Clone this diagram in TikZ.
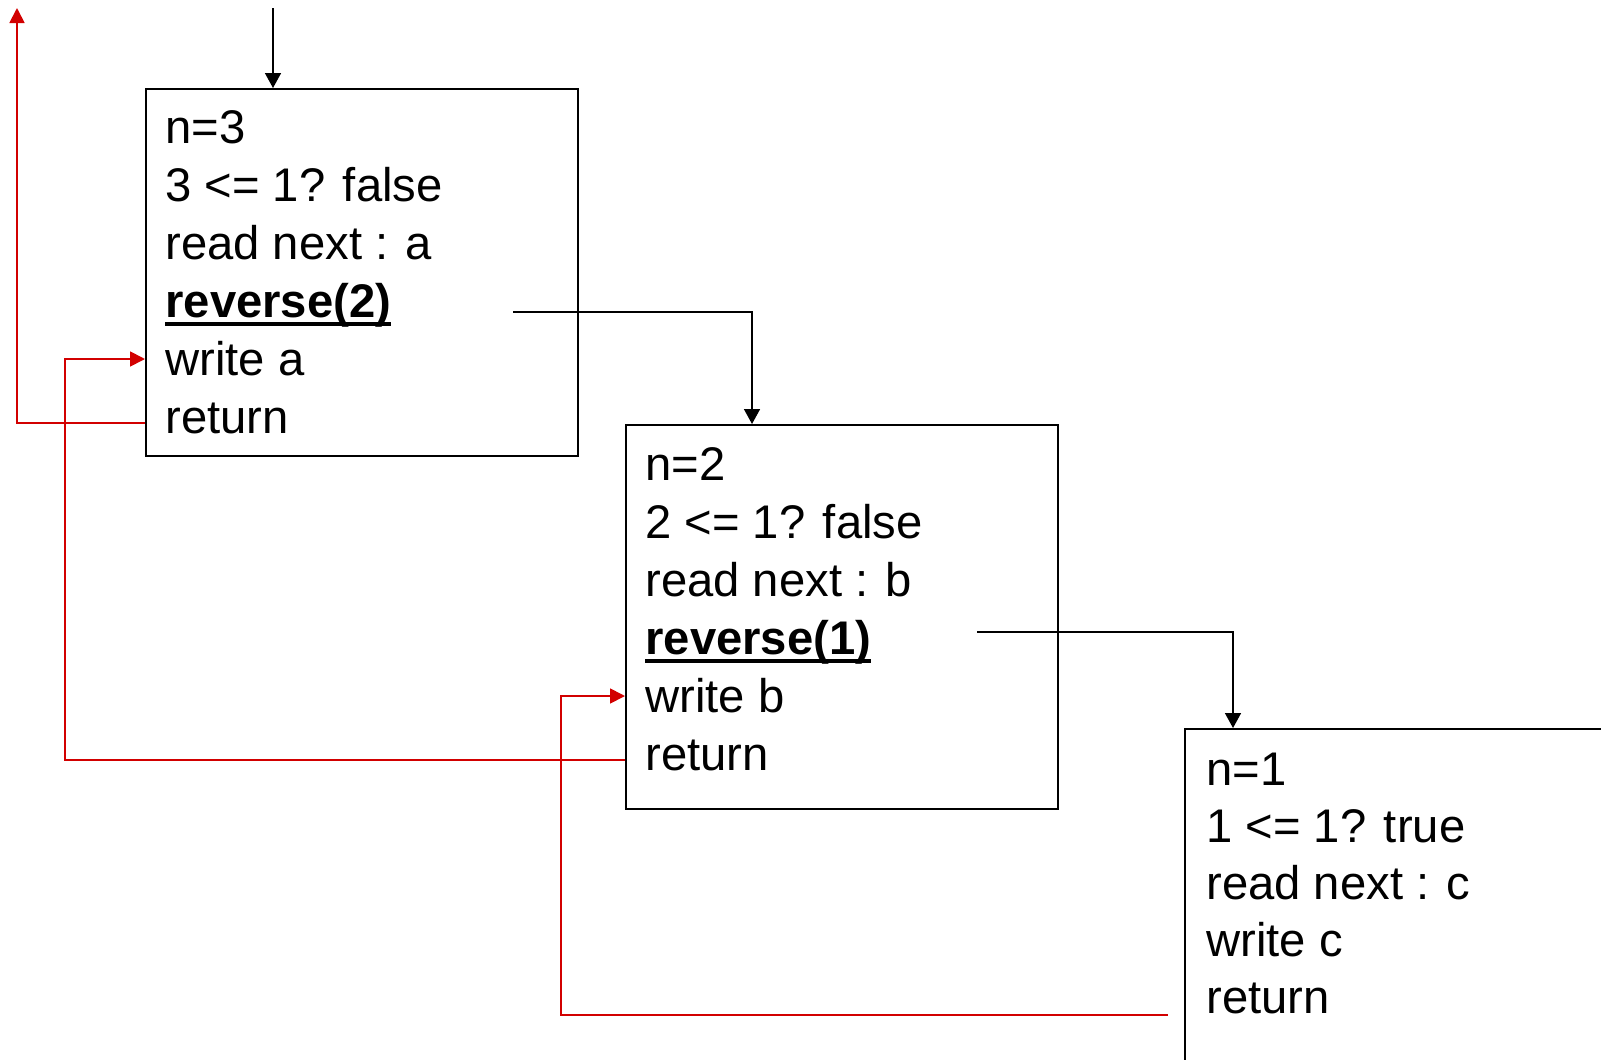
\documentclass[tikz,border=0pt]{standalone}
\usepackage{fontspec}
\setmainfont{Liberation Sans}
\usetikzlibrary{arrows.meta}
\definecolor{rd}{RGB}{210,0,0}
\newcommand\ulb[1]{\setbox0\hbox{\bfseries #1}\rlap{\rule[-4.5pt]{\wd0}{2pt}}\box0}
\begin{document}
\begin{tikzpicture}[x=0.5pt,y=-0.5pt,
  boxst/.style={draw,line width=1pt,anchor=north west,inner sep=0pt,minimum width=216pt},
  txt/.style={anchor=base west,inner sep=0pt,font=\fontsize{23.6}{29}\selectfont},
  blk/.style={line width=0.8pt,-{Triangle[length=7.5pt,width=8pt]}},
  rl/.style={draw=rd,line width=0.9pt,-{Triangle[length=7.5pt,width=7.5pt]},rd}]
\useasboundingbox (0,0) rectangle (1601,1060);
% boxes
\node[boxst,minimum height=183.5pt] (b1) at (145,88) {};
\node[boxst,minimum height=192pt] (b2) at (625,424) {};
\node[boxst,minimum height=192pt] (b3) at (1184,728) {};
% box 1 text
\node[txt] (a1) at (165,143) {n=3};
\node[txt] (a2) at (165,201) {3 <= 1? false};
\node[txt] (a3) at (165,259) {read next : a};
\node[txt] (a4) at (165,317) {\ulb{reverse(2)}};
\node[txt] (a5) at (165,375) {write a};
\node[txt] (a6) at (165,433) {return};
% box 2 text
\node[txt] (c1) at (645,480) {n=2};
\node[txt] (c2) at (645,538) {2 <= 1? false};
\node[txt] (c3) at (645,596) {read next : b};
\node[txt] (c4) at (645,654) {\ulb{reverse(1)}};
\node[txt] (c5) at (645,712) {write b};
\node[txt] (c6) at (645,770) {return};
% box 3 text
\node[txt] (d1) at (1206,785) {n=1};
\node[txt] (d2) at (1206,842) {1 <= 1? true};
\node[txt] (d3) at (1206,899) {read next : c};
\node[txt] (d4) at (1206,956) {write c};
\node[txt] (d5) at (1206,1013) {return};
% black connectors
\coordinate (s0) at (273,8);
\draw[blk] (s0) -- (s0 |- b1.north);
\coordinate (s1) at (513,312);
\draw[blk] (s1) -| ([xshift=63.5pt]b2.north west);
\coordinate (s2) at (977,632);
\draw[blk] (s2) -| ([xshift=24.5pt]b3.north west);
% red connectors
\coordinate (top) at (17,8);
\draw[rl] (b1.west |- 0,423) -| (top);
\coordinate (k1) at (65,359);
\draw[rl] (b2.west |- 0,760) -| (k1) -- (b1.west |- k1);
\coordinate (s3) at (1168,1015);
\coordinate (k2) at (561,696);
\draw[rl] (s3) -| (k2) -- (b2.west |- k2);
\end{tikzpicture}
\end{document}
